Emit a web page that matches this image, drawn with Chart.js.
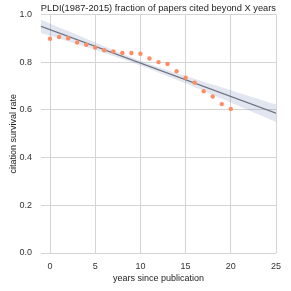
<!DOCTYPE html>
<html>
<head>
<meta charset="utf-8">
<script src="https://cdn.jsdelivr.net/npm/chart.js@4.4.0/dist/chart.umd.min.js"></script>
<style>
  html, body { margin: 0; padding: 0; background: #fff; }
  #wrap { width: 291px; height: 291px; }
</style>
</head>
<body>
<div id="wrap"><canvas id="chart" width="291" height="291"></canvas></div>
<script>
// years since publication and observed survival rate
const years = [0, 1, 2, 3, 4, 5, 6, 7, 8, 9, 10, 11, 12, 13, 14, 15, 16, 17, 18, 19, 20];
const survival = [0.898, 0.905, 0.900, 0.882, 0.873, 0.861, 0.850, 0.845, 0.838, 0.838, 0.835,
                  0.815, 0.800, 0.792, 0.762, 0.735, 0.714, 0.678, 0.656, 0.624, 0.604];

// fitted line and its confidence band
const fitX = [-1, 25];
const fitY = [0.950, 0.586];
const bandX = [-1, 2, 5, 8, 10, 12, 15, 18, 21, 25];
const bandUpper = [0.978, 0.930, 0.882, 0.835, 0.806, 0.779, 0.742, 0.706, 0.670, 0.623];
const bandLower = [0.922, 0.887, 0.851, 0.813, 0.786, 0.757, 0.711, 0.663, 0.614, 0.549];

const xTicks = [0, 5, 10, 15, 20, 25];
const yTicks = [0.0, 0.2, 0.4, 0.6, 0.8, 1.0];

function pts(xs, ys) {
    return xs.map((x, i) => ({ x: x, y: ys[i] }));
}

const fontFamily = '"Liberation Sans", Arial, sans-serif';

new Chart(document.getElementById('chart').getContext('2d'), {
    type: 'scatter',
    data: {
        datasets: [
            {
                // band upper edge, filled down to the lower edge
                type: 'line',
                data: pts(bandX, bandUpper),
                borderWidth: 0,
                pointRadius: 0,
                tension: 0.4,
                backgroundColor: 'rgba(120,140,185,0.22)',
                fill: '+1',
                order: 3
            },
            {
                type: 'line',
                data: pts(bandX, bandLower),
                borderWidth: 0,
                pointRadius: 0,
                tension: 0.4,
                fill: false,
                order: 3
            },
            {
                type: 'line',
                data: pts(fitX, fitY),
                borderColor: '#6e7280',
                borderWidth: 1.2,
                pointRadius: 0,
                fill: false,
                order: 2
            },
            {
                data: pts(years, survival),
                backgroundColor: '#fc8d62',
                borderWidth: 0,
                pointRadius: 2.2,
                order: 1
            }
        ]
    },
    options: {
        responsive: false,
        animation: false,
        layout: { padding: { left: 0, right: 15, top: 0, bottom: 0 } },
        plugins: {
            legend: { display: false },
            tooltip: { enabled: false },
            title: {
                display: true,
                text: 'PLDI(1987-2015) fraction of papers cited beyond X years',
                color: '#222',
                font: { family: fontFamily, size: 9.3, weight: 'normal', lineHeight: 1.3 },
                padding: { top: 1, bottom: 0 },
                align: 'end'
            }
        },
        scales: {
            x: {
                type: 'linear',
                min: -1,
                max: 25,
                afterBuildTicks: (axis) => { axis.ticks = xTicks.map(v => ({ value: v })); },
                afterFit: (axis) => { axis.height = 38; },
                grid: { color: '#d4d4d4', lineWidth: 1, drawTicks: false },
                border: { display: false },
                ticks: {
                    color: '#333',
                    padding: 8,
                    maxRotation: 0,
                    font: { family: fontFamily, size: 9 }
                },
                title: {
                    display: true,
                    text: 'years since publication',
                    color: '#222',
                    padding: { top: 0, bottom: 7 },
                    font: { family: fontFamily, size: 9 }
                }
            },
            y: {
                min: 0,
                max: 1,
                afterBuildTicks: (axis) => { axis.ticks = yTicks.map(v => ({ value: v })); },
                afterFit: (axis) => { axis.width = 41; },
                grid: { color: '#d4d4d4', lineWidth: 1, drawTicks: false },
                border: { display: false },
                ticks: {
                    color: '#333',
                    padding: 9,
                    font: { family: fontFamily, size: 9 },
                    callback: (v) => Number(v).toFixed(1)
                },
                title: {
                    display: true,
                    text: 'citation survival rate',
                    color: '#222',
                    padding: { top: 8, bottom: 0 },
                    font: { family: fontFamily, size: 9 }
                }
            }
        }
    }
});
</script>
</body>
</html>
